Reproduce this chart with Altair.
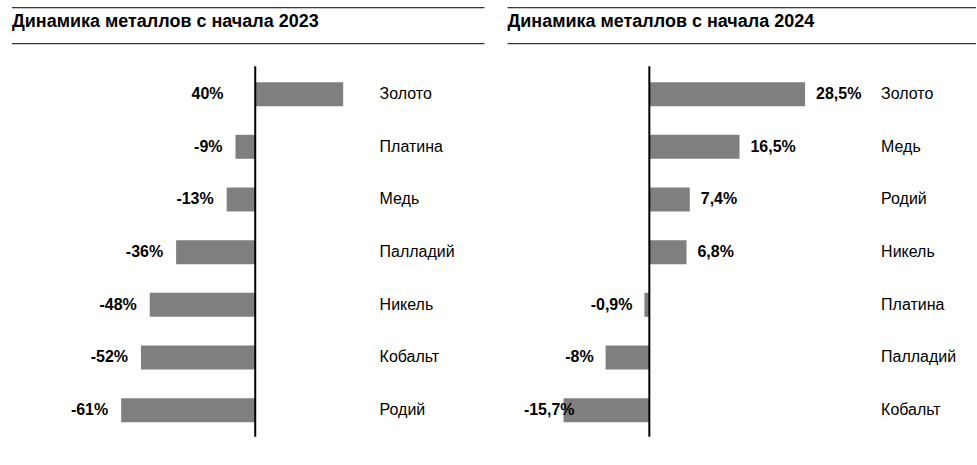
import altair as alt
import pandas as pd

FONT = "Liberation Sans"
BAR_COLOR = "#7f7f7f"

title23 = "Динамика металлов с начала 2023"
cats23 = ["Золото", "Платина", "Медь", "Палладий", "Никель", "Кобальт", "Родий"]
vals23 = [40, -9, -13, -36, -48, -52, -61]
labels23 = ["40%", "-9%", "-13%", "-36%", "-48%", "-52%", "-61%"]

title24 = "Динамика металлов с начала 2024"
cats24 = ["Золото", "Медь", "Родий", "Никель", "Платина", "Палладий", "Кобальт"]
vals24 = [28.5, 16.5, 7.4, 6.8, -0.9, -8, -15.7]
labels24 = ["28,5%", "16,5%", "7,4%", "6,8%", "-0,9%", "-8%", "-15,7%"]

H = 465


def panel(title, cats, vals, labels, width, zero_px, px_per_unit, name_x,
          line_x0, line_x1, title_x, label_specs):
    df = pd.DataFrame({"cat": cats, "v": vals, "lbl": labels})
    xscale = alt.Scale(domain=[-zero_px / px_per_unit, (width - zero_px) / px_per_unit],
                       nice=False, zero=False)
    yenc = alt.Y("cat:N", sort=cats, axis=None,
                 scale=alt.Scale(paddingInner=0, paddingOuter=0.91, align=0.705))
    base = alt.Chart(df)
    bars = base.mark_bar(color=BAR_COLOR, size=24).encode(
        x=alt.X("v:Q", scale=xscale, axis=None),
        x2=alt.X2(datum=0),
        y=yenc,
    )
    label_layers = []
    for flt, expr, align, dx in label_specs:
        label_layers.append(
            base.transform_filter(flt).transform_calculate(lx=expr).mark_text(
                font=FONT, fontSize=16, fontWeight="bold", color="black",
                align=align, baseline="middle", dx=dx
            ).encode(x=alt.X("lx:Q", scale=xscale, axis=None), y=yenc, text="lbl:N")
        )
    names = base.mark_text(
        font=FONT, fontSize=16, color="black", align="left", baseline="middle"
    ).encode(x=alt.value(name_x), y=yenc, text="cat:N")
    tdf = alt.Chart(pd.DataFrame({"t": [title]}))
    zero = tdf.mark_rule(color="black", strokeWidth=2).encode(
        x=alt.X(datum=0, scale=xscale, axis=None), y=alt.value(66), y2=alt.value(437))
    top_line = tdf.mark_rule(color="black", strokeWidth=1).encode(
        x=alt.value(line_x0), x2=alt.value(line_x1), y=alt.value(7.5))
    sub_line = tdf.mark_rule(color="black", strokeWidth=1).encode(
        x=alt.value(line_x0), x2=alt.value(line_x1), y=alt.value(43.5))
    ttext = tdf.mark_text(
        font=FONT, fontSize=18, fontWeight="bold", color="black",
        align="left", baseline="alphabetic"
    ).encode(x=alt.value(title_x), y=alt.value(26.5), text="t:N")
    return alt.layer(bars, *label_layers, names, zero, top_line, sub_line, ttext).properties(
        width=width, height=H)


left = panel(title23, cats23, vals23, labels23, width=490, zero_px=255.5, px_per_unit=2.2,
             name_x=380, line_x0=12, line_x1=485, title_x=12,
             label_specs=[("true", "datum.v < 0 ? datum.v : -8.5", "right", -13)])
right = panel(title24, cats24, vals24, labels24, width=487, zero_px=160, px_per_unit=5.47,
              name_x=392, line_x0=18, line_x1=487, title_x=18,
              label_specs=[("datum.v >= 0", "datum.v", "left", 11),
                           ("datum.v < 0", "max(datum.v, -11.5)", "right", -12)])

chart = alt.hconcat(left, right, spacing=0).properties(
    padding=0, background="white"
).configure_view(stroke=None)

chart.save("out.html", embed_options={"renderer": "svg", "actions": False})
